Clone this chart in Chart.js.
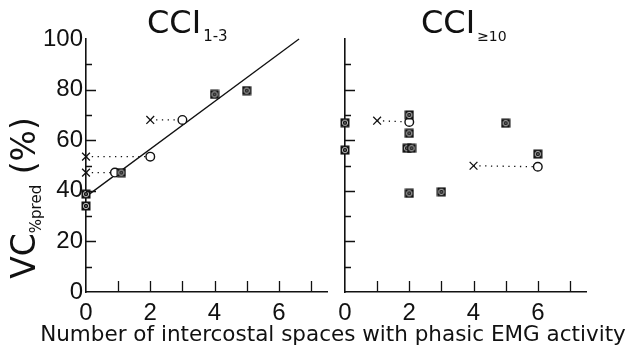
<!DOCTYPE html>
<html>
<head>
<meta charset="utf-8">
<script src="https://cdn.jsdelivr.net/npm/chart.js@4.4.1/dist/chart.umd.min.js"></script>
<style>
  body { margin: 0; background: #fff; }
  #wrap { position: relative; width: 632px; height: 349px; }
  #wrap canvas { position: absolute; left: 0; top: 0; }
</style>
</head>
<body>
<div id="wrap">
  <canvas id="leftChart" width="632" height="349"></canvas>
  <canvas id="rightChart" width="632" height="349"></canvas>
</div>
<script>
"use strict";

// CCI 1-3 : bilateral phasic activity (boxes), left/right pairs (x -> o)
const leftBoxes = [
    { x: 0, y: 38.7 }, { x: 0, y: 34 }, { x: 1.1, y: 47.2 },
    { x: 4, y: 78.1 }, { x: 5, y: 79.6 }
];
const leftCrosses = [{ x: 0, y: 53.5 }, { x: 0, y: 47.2 }, { x: 2, y: 68 }];
const leftCircles = [{ x: 2, y: 53.5 }, { x: 0.9, y: 47.2 }, { x: 3, y: 68 }];
const leftFit = [{ x: 0, y: 37.7 }, { x: 6.63, y: 100 }];

// CCI >= 10
const rightBoxes = [
    { x: 0, y: 66.9 }, { x: 0, y: 56.1 }, { x: 2, y: 70 }, { x: 2, y: 62.7 },
    { x: 1.93, y: 56.8 }, { x: 2.07, y: 56.8 }, { x: 2, y: 39 },
    { x: 3, y: 39.6 }, { x: 5, y: 66.7 }, { x: 6, y: 54.5 }
];
const rightCrosses = [{ x: 1, y: 67.7 }, { x: 4, y: 49.9 }];
const rightCircles = [{ x: 2, y: 67.2 }, { x: 6, y: 49.5 }];

// axis ticks
const xLabelTicks = [0, 2, 4, 6];
const xTickMarks = [1, 2, 3, 4, 5, 6, 7];
const yTickMarks = [10, 20, 30, 40, 50, 60, 70, 80, 90];

const ink = '#111';
const numFont = { family: 'Liberation Sans', size: 24 };

// kleines schwarzes Quadrat mit hellem Ring und Kreuz
function makeBoxMarker() {
    const c = document.createElement('canvas');
    c.width = 10;
    c.height = 10;
    const g = c.getContext('2d');
    g.fillStyle = ink;
    g.fillRect(0.5, 0.5, 9, 9);
    g.strokeStyle = '#e8e8e8';
    g.lineWidth = 0.8;
    g.beginPath();
    g.arc(5, 5, 2.7, 0, Math.PI * 2);
    g.stroke();
    g.strokeStyle = '#888';
    g.lineWidth = 0.6;
    g.beginPath();
    g.moveTo(3.8, 3.8); g.lineTo(6.2, 6.2);
    g.moveTo(6.2, 3.8); g.lineTo(3.8, 6.2);
    g.stroke();
    return c;
}
const boxMarker = makeBoxMarker();

function markerSets(boxes, crosses, circles) {
    const sets = [
        { data: boxes, pointStyle: boxMarker, clip: false },
        { data: crosses, pointStyle: 'crossRot', pointRadius: 5.5, borderColor: ink, borderWidth: 1.3, clip: false },
        { data: circles, pointStyle: 'circle', pointRadius: 4.3, borderColor: ink, backgroundColor: '#fff', borderWidth: 1.4, clip: false }
    ];
    // gepunktete Verbindung x -> o
    crosses.forEach((p, i) => {
        sets.push({
            data: [p, circles[i]], showLine: true, pointRadius: 0,
            borderColor: ink, borderWidth: 1.3, borderDash: [1.3, 4.5], clip: false
        });
    });
    return sets;
}

// Tick-Striche nach innen
const innerTicks = {
    id: 'innerTicks',
    afterDraw(chart) {
        const ctx = chart.ctx;
        const xs = chart.scales.x, ys = chart.scales.y;
        const area = chart.chartArea;
        ctx.save();
        ctx.strokeStyle = ink;
        ctx.lineWidth = 1.3;
        ctx.beginPath();
        xTickMarks.forEach(v => {
            const px = Math.round(xs.getPixelForValue(v)) + 0.5;
            ctx.moveTo(px, area.bottom);
            ctx.lineTo(px, area.bottom - 11);
        });
        yTickMarks.forEach(v => {
            const py = Math.round(ys.getPixelForValue(v)) + 0.5;
            ctx.moveTo(area.left, py);
            ctx.lineTo(area.left + (v % 20 === 0 ? 10 : 6), py);
        });
        ctx.stroke();
        ctx.restore();
    }
};

function drawTitle(ctx, x, main, sub, subSize) {
    ctx.font = '32px "DejaVu Sans"';
    ctx.textBaseline = 'alphabetic';
    ctx.textAlign = 'left';
    ctx.fillText(main, x, 33);
    const w = ctx.measureText(main).width;
    ctx.font = subSize + 'px "DejaVu Sans"';
    ctx.fillText(sub, x + w + 2, 41);
}

const leftTexts = {
    id: 'leftTexts',
    afterDraw(chart) {
        const ctx = chart.ctx;
        ctx.save();
        ctx.fillStyle = ink;
        drawTitle(ctx, 147, 'CCI', '1-3', 15);

        // x-Achsentitel über beide Felder
        ctx.font = '21.5px "DejaVu Sans"';
        ctx.textAlign = 'center';
        ctx.textBaseline = 'alphabetic';
        ctx.fillText('Number of intercostal spaces with phasic EMG activity', 333, 341);

        // y-Achsentitel mit Index
        ctx.translate(35, 198);
        ctx.rotate(-Math.PI / 2);
        ctx.textAlign = 'left';
        const big = '33px "DejaVu Sans"', small = '15px "DejaVu Sans"';
        ctx.font = big;
        const wVC = ctx.measureText('VC').width;
        const wPct = ctx.measureText(' (%)').width;
        ctx.font = small;
        const wSub = ctx.measureText('%pred').width;
        let x0 = -(wVC + wSub + wPct) / 2;
        ctx.font = big;
        ctx.fillText('VC', x0, 0);
        ctx.font = small;
        ctx.fillText('%pred', x0 + wVC, 6);
        ctx.font = big;
        ctx.fillText(' (%)', x0 + wVC + wSub, 0);
        ctx.restore();
    }
};

const rightTexts = {
    id: 'rightTexts',
    afterDraw(chart) {
        const ctx = chart.ctx;
        ctx.save();
        ctx.fillStyle = ink;
        drawTitle(ctx, 421, 'CCI', '\u226510', 14);
        ctx.restore();
    }
};

function scaleOptions(showYLabels, yWidth) {
    return {
        x: {
            type: 'linear', min: 0, max: 7.5,
            grid: { display: false, drawTicks: false },
            border: { display: true, color: ink, width: 1.6 },
            afterBuildTicks: s => { s.ticks = xLabelTicks.map(v => ({ value: v })); },
            afterFit: s => { s.height = 57; },
            ticks: { color: ink, font: numFont, padding: 7, maxRotation: 0, autoSkip: false }
        },
        y: {
            min: 0, max: 100,
            grid: { display: false, drawTicks: false },
            border: { display: true, color: ink, width: 1.6 },
            afterFit: s => { s.width = yWidth; },
            ticks: { display: showYLabels, stepSize: 20, color: ink, font: numFont, padding: 3 }
        }
    };
}

const baseOptions = {
    responsive: false,
    animation: false,
    events: [],
    plugins: { legend: { display: false }, tooltip: { enabled: false } },
    elements: { point: { radius: 5, borderColor: ink, backgroundColor: ink } }
};

// linkes Feld: CCI 1-3 mit Regressionsgerade
new Chart(document.getElementById('leftChart'), {
    type: 'scatter',
    data: {
        datasets: markerSets(leftBoxes, leftCrosses, leftCircles).concat([{
            data: leftFit, showLine: true, pointRadius: 0,
            borderColor: ink, borderWidth: 1.3, clip: false
        }])
    },
    options: Object.assign({}, baseOptions, {
        layout: { padding: { left: 0, top: 39, right: 305, bottom: 0 } },
        scales: scaleOptions(true, 86)
    }),
    plugins: [innerTicks, leftTexts]
});

// rechtes Feld: CCI >= 10
new Chart(document.getElementById('rightChart'), {
    type: 'scatter',
    data: { datasets: markerSets(rightBoxes, rightCrosses, rightCircles) },
    options: Object.assign({}, baseOptions, {
        layout: { padding: { left: 335, top: 39, right: 46, bottom: 0 } },
        scales: scaleOptions(false, 10)
    }),
    plugins: [innerTicks, rightTexts]
});
</script>
</body>
</html>
